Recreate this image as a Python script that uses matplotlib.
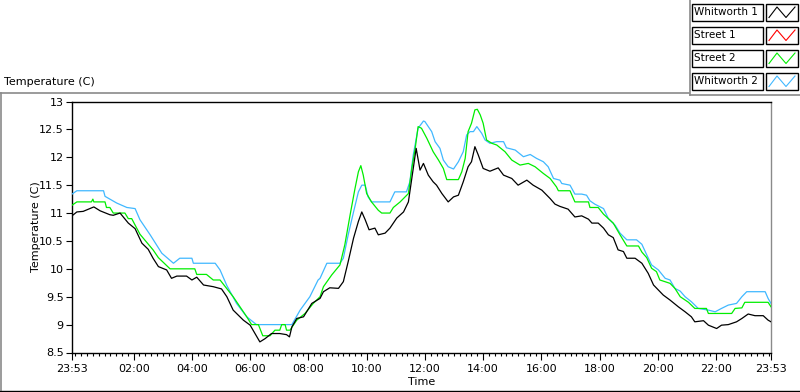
import matplotlib
matplotlib.use("Agg")
import matplotlib.pyplot as plt
import matplotlib.dates as mdates
import matplotlib.ticker as mticker
from matplotlib.lines import Line2D
from matplotlib.patches import Rectangle
from datetime import datetime

plt.rcParams['font.family'] = ['DejaVu Sans']

# ---------------- data ----------------
series_names = ["Whitworth 1", "Street 1", "Street 2", "Whitworth 2"]
series_colors = ["#000000", "#FF0000", "#00EE00", "#40B8FF"]

whitworth1_time = ["23:53", "00:03", "00:16", "00:27", "00:38", "00:51", "01:11", "01:18", "01:32", "01:49",
                   "02:03", "02:17", "02:30", "02:40", "02:51", "03:08", "03:18", "03:29", "03:49", "04:00",
                   "04:10", "04:24", "04:44", "05:01", "05:12", "05:25", "05:46", "06:00", "06:10", "06:20",
                   "06:31", "06:44", "07:01", "07:15", "07:21", "07:26", "07:36", "07:50", "08:07", "08:24",
                   "08:31", "08:44", "09:02", "09:12", "09:22", "09:33", "09:43", "09:50", "09:57", "10:05",
                   "10:17", "10:24", "10:38", "10:48", "11:02", "11:16", "11:26", "11:33", "11:42", "11:50",
                   "11:57", "12:07", "12:17", "12:24", "12:35", "12:48", "12:59", "13:09", "13:19", "13:29",
                   "13:36", "13:43", "13:50", "14:00", "14:14", "14:31", "14:42", "14:59", "15:12", "15:30",
                   "15:43", "16:01", "16:18", "16:28", "16:38", "16:55", "17:09", "17:23", "17:37", "17:44",
                   "17:57", "18:08", "18:18", "18:28", "18:38", "18:49", "18:56", "19:13", "19:27", "19:40",
                   "19:51", "20:01", "20:11", "20:25", "20:42", "20:56", "21:09", "21:16", "21:34", "21:44",
                   "22:01", "22:11", "22:25", "22:42", "22:53", "23:06", "23:20", "23:37", "23:47", "23:53"]
whitworth1_temp = [10.95, 11.02, 11.03, 11.07, 11.11, 11.04, 10.97, 10.96, 11.00, 10.82,
                   10.72, 10.46, 10.35, 10.19, 10.04, 9.98, 9.83, 9.87, 9.87, 9.80,
                   9.85, 9.71, 9.68, 9.64, 9.50, 9.26, 9.08, 8.99, 8.84, 8.69,
                   8.75, 8.84, 8.84, 8.82, 8.78, 8.96, 9.11, 9.14, 9.38, 9.47,
                   9.59, 9.66, 9.65, 9.77, 10.13, 10.55, 10.85, 11.02, 10.88, 10.70,
                   10.73, 10.61, 10.64, 10.73, 10.91, 11.02, 11.20, 11.62, 12.16, 11.77,
                   11.89, 11.68, 11.56, 11.50, 11.35, 11.20, 11.29, 11.32, 11.56, 11.83,
                   11.92, 12.19, 12.04, 11.80, 11.75, 11.81, 11.68, 11.62, 11.50, 11.59,
                   11.50, 11.41, 11.26, 11.16, 11.12, 11.07, 10.93, 10.95, 10.89, 10.82,
                   10.82, 10.73, 10.61, 10.56, 10.34, 10.31, 10.19, 10.19, 10.10, 9.92,
                   9.71, 9.62, 9.53, 9.44, 9.32, 9.23, 9.14, 9.05, 9.07, 8.99,
                   8.93, 8.99, 9.00, 9.05, 9.11, 9.19, 9.16, 9.16, 9.08, 9.05]

street1_time = []
street1_temp = []

street2_time = ["23:53", "00:03", "00:33", "00:36", "00:38", "01:01", "01:04", "01:11", "01:18", "01:42",
                "01:49", "01:56", "02:13", "02:40", "02:51", "03:15", "04:06", "04:10", "04:30", "04:44",
                "04:58", "05:25", "05:53", "06:03", "06:17", "06:26", "06:41", "06:51", "07:01", "07:05",
                "07:12", "07:15", "07:22", "07:36", "07:53", "08:10", "08:24", "08:31", "08:48", "09:05",
                "09:15", "09:26", "09:36", "09:43", "09:48", "09:53", "10:00", "10:10", "10:24", "10:31",
                "10:48", "10:55", "11:09", "11:26", "11:33", "11:40", "11:46", "11:53", "12:04", "12:17",
                "12:28", "12:38", "12:45", "13:09", "13:16", "13:23", "13:29", "13:36", "13:43", "13:48",
                "13:54", "14:00", "14:07", "14:18", "14:28", "14:45", "14:59", "15:16", "15:33", "15:47",
                "16:04", "16:18", "16:31", "16:35", "16:59", "17:09", "17:37", "17:40", "17:57", "18:08",
                "18:28", "18:42", "18:56", "19:20", "19:27", "19:37", "19:47", "19:57", "20:04", "20:25",
                "20:35", "20:46", "21:03", "21:16", "21:40", "21:44", "22:32", "22:39", "22:53", "22:59",
                "23:47", "23:53"]
street2_temp = [11.14, 11.20, 11.20, 11.25, 11.20, 11.20, 11.10, 11.10, 11.00, 11.00,
                10.90, 10.90, 10.62, 10.34, 10.20, 10.00, 10.00, 9.90, 9.90, 9.80,
                9.80, 9.50, 9.14, 9.00, 9.00, 8.80, 8.80, 8.90, 8.90, 9.00,
                9.00, 8.90, 8.90, 9.08, 9.20, 9.38, 9.50, 9.68, 9.89, 10.07,
                10.43, 10.97, 11.44, 11.74, 11.85, 11.68, 11.35, 11.20, 11.05, 11.00,
                11.00, 11.10, 11.20, 11.35, 11.80, 12.16, 12.55, 12.52, 12.34, 12.10,
                11.95, 11.80, 11.60, 11.60, 11.74, 11.98, 12.46, 12.61, 12.85, 12.86,
                12.76, 12.61, 12.31, 12.25, 12.22, 12.10, 11.95, 11.86, 11.89, 11.83,
                11.71, 11.62, 11.47, 11.40, 11.40, 11.20, 11.20, 11.10, 11.10, 10.98,
                10.82, 10.61, 10.41, 10.41, 10.30, 10.20, 10.01, 9.95, 9.80, 9.74,
                9.65, 9.50, 9.40, 9.29, 9.29, 9.20, 9.20, 9.29, 9.30, 9.40,
                9.40, 9.32]

whitworth2_time = ["23:53", "00:03", "00:58", "01:01", "01:25", "01:46", "02:03", "02:13", "02:34", "02:58",
                   "03:22", "03:35", "04:00", "04:03", "04:48", "04:58", "05:12", "05:32", "05:53", "06:13",
                   "07:26", "07:43", "08:03", "08:20", "08:24", "08:38", "09:05", "09:12", "09:22", "09:33",
                   "09:43", "09:50", "09:57", "10:03", "10:10", "10:48", "10:58", "11:22", "11:29", "11:36",
                   "11:46", "11:57", "12:00", "12:07", "12:14", "12:21", "12:31", "12:38", "12:48", "12:59",
                   "13:09", "13:19", "13:26", "13:33", "13:40", "13:47", "13:57", "14:04", "14:14", "14:28",
                   "14:42", "14:48", "15:06", "15:23", "15:37", "15:50", "16:04", "16:14", "16:25", "16:38",
                   "16:42", "16:59", "17:09", "17:23", "17:33", "17:40", "17:50", "18:08", "18:18", "18:32",
                   "18:42", "18:56", "19:16", "19:27", "19:37", "19:47", "20:01", "20:15", "20:25", "20:35",
                   "20:46", "20:56", "21:09", "21:23", "21:44", "21:58", "22:11", "22:25", "22:42", "22:53",
                   "23:03", "23:41", "23:47", "23:53"]
whitworth2_temp = [11.34, 11.40, 11.40, 11.30, 11.18, 11.10, 11.08, 10.88, 10.61, 10.28,
                   10.10, 10.19, 10.19, 10.10, 10.10, 9.98, 9.70, 9.38, 9.14, 9.00,
                   9.00, 9.26, 9.50, 9.80, 9.83, 10.10, 10.10, 10.19, 10.61, 11.02,
                   11.38, 11.50, 11.50, 11.29, 11.20, 11.20, 11.38, 11.38, 11.56, 12.04,
                   12.52, 12.65, 12.64, 12.55, 12.46, 12.28, 12.16, 11.95, 11.83, 11.79,
                   11.92, 12.10, 12.40, 12.46, 12.46, 12.55, 12.43, 12.31, 12.25, 12.28,
                   12.28, 12.17, 12.13, 12.01, 12.05, 11.98, 11.92, 11.83, 11.62, 11.59,
                   11.53, 11.50, 11.34, 11.34, 11.32, 11.22, 11.16, 11.08, 10.90, 10.78,
                   10.64, 10.52, 10.52, 10.44, 10.25, 10.07, 9.98, 9.83, 9.80, 9.65,
                   9.60, 9.50, 9.41, 9.29, 9.26, 9.23, 9.29, 9.35, 9.38, 9.50,
                   9.59, 9.59, 9.47, 9.38]

x_tick_labels = ["23:53", "02:00", "04:00", "06:00", "08:00", "10:00", "12:00",
                 "14:00", "16:00", "18:00", "20:00", "22:00", "23:53"]
y_ticks = [8.5, 9, 9.5, 10, 10.5, 11, 11.5, 12, 12.5, 13]


def to_dt(labels):
    """First stamp is on day 1 (23:53), every following stamp on day 2."""
    out = []
    for i, s in enumerate(labels):
        h, m = map(int, s.split(":"))
        out.append(datetime(2000, 1, 1 if i == 0 else 2, h, m))
    return out


W, H = 800, 392
fig = plt.figure(figsize=(W / 100, H / 100), dpi=100)
fig.patch.set_facecolor("white")

def fx(x):
    return x / W

def fy(y):
    return 1 - y / H

ax_l, ax_r, ax_t, ax_b = 72, 771, 101.5, 352.5
ax = fig.add_axes([fx(ax_l), fy(ax_b), (ax_r - ax_l) / W, (ax_b - ax_t) / H])

times = [whitworth1_time, street1_time, street2_time, whitworth2_time]
temps = [whitworth1_temp, street1_temp, street2_temp, whitworth2_temp]
order = [3, 2, 1, 0]
for i in order:
    ax.plot(to_dt(times[i]), temps[i], color=series_colors[i], lw=0.9, zorder=3 + (3 - i))

xt = to_dt(x_tick_labels)
ax.set_xlim(xt[0], xt[-1])
ax.set_ylim(8.5, 13)
ax.xaxis.set_major_locator(mticker.FixedLocator(mdates.date2num(xt)))
ax.xaxis.set_major_formatter(mticker.FixedFormatter(x_tick_labels))
ax.xaxis.set_minor_locator(mdates.MinuteLocator(byminute=[0, 12, 24, 36, 48]))
ax.set_yticks(y_ticks)
ax.yaxis.set_major_formatter(mticker.FuncFormatter(lambda v, p: "%g" % v))

ax.tick_params(axis="both", which="major", direction="out", length=4, width=0.8,
               labelsize=8, pad=2, color="black")
ax.tick_params(axis="x", which="major", length=5, pad=3)
ax.tick_params(axis="x", which="minor", direction="out", length=2.5, width=0.8)

for side in ["left", "bottom", "top"]:
    ax.spines[side].set_color("black")
    ax.spines[side].set_linewidth(1.0)
ax.spines["right"].set_color("#8a8a8a")
ax.spines["right"].set_linewidth(1.0)

ax.set_ylabel("Temperature (C)", fontsize=8)
ax.yaxis.set_label_coords(-0.044, 0.5)
ax.set_xlabel("Time", fontsize=8)
ax.xaxis.set_label_coords(0.5, -0.098)

# chart caption
fig.text(fx(4), fy(82), "Temperature (C)", fontsize=8, va="center", ha="left")

# outer frame (sunken look)
gray = "#8a8a8a"
fig.add_artist(Line2D([fx(0), fx(689)], [fy(92.5), fy(92.5)], color=gray, lw=1.2, transform=fig.transFigure))
fig.add_artist(Line2D([fx(1), fx(1)], [fy(92.5), fy(390)], color=gray, lw=1.2, transform=fig.transFigure))
fig.add_artist(Line2D([fx(0), fx(800)], [fy(390.5), fy(390.5)], color="black", lw=1.0, transform=fig.transFigure))
fig.add_artist(Line2D([fx(689.5), fx(689.5)], [fy(0), fy(95)], color=gray, lw=1.2, transform=fig.transFigure))
fig.add_artist(Line2D([fx(689.5), fx(800)], [fy(95), fy(95)], color=gray, lw=1.2, transform=fig.transFigure))

# legend
row_top = [4, 27, 50, 73]
for i, name in enumerate(series_names):
    t = row_top[i]
    b = t + 16.5
    fig.add_artist(Rectangle((fx(692), fy(b)), fx(763) - fx(692), fy(t) - fy(b),
                             transform=fig.transFigure, fill=True, facecolor="white",
                             edgecolor="black", lw=1.0))
    fig.add_artist(Rectangle((fx(766), fy(b)), fx(798) - fx(766), fy(t) - fy(b),
                             transform=fig.transFigure, fill=True, facecolor="white",
                             edgecolor="black", lw=1.0))
    fig.text(fx(694), fy((t + b) / 2), name, fontsize=7.5, va="center", ha="left")
    xs = [769, 777, 786, 795]
    ys = [b - 3, t + 3, b - 3, t + 3]
    fig.add_artist(Line2D([fx(v) for v in xs], [fy(v) for v in ys], color=series_colors[i],
                          lw=0.8, transform=fig.transFigure))

fig.savefig("out.png", dpi=100)
